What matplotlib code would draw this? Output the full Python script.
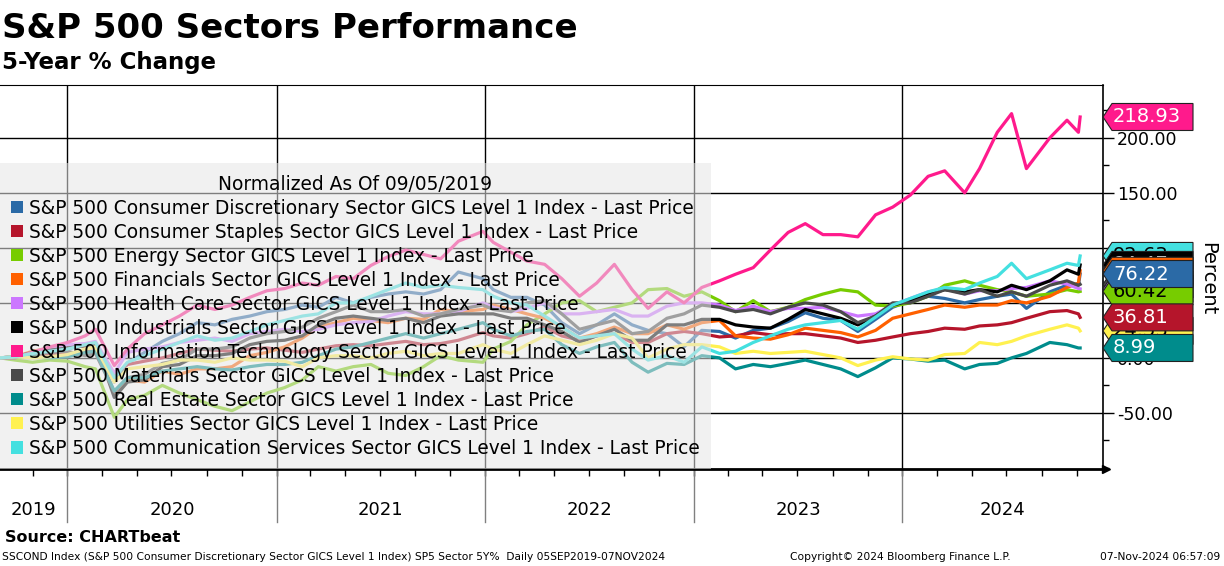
import numpy as np
import pandas as pd
import matplotlib
matplotlib.use('Agg')
import matplotlib.pyplot as plt
import matplotlib.dates as mdates
from matplotlib.patches import Patch, Polygon
from matplotlib.ticker import FormatStrFormatter

# sampling dates (monthly, plus a few turning points)
dates = pd.to_datetime([
    '2019-09-05', '2019-10-01', '2019-11-01', '2019-12-01', '2020-01-01', '2020-02-01', '2020-02-19', '2020-03-23',
    '2020-04-15', '2020-05-15', '2020-06-15', '2020-07-15', '2020-08-15', '2020-09-15', '2020-10-15', '2020-11-15',
    '2020-12-15',
    '2021-01-15', '2021-02-15', '2021-03-15', '2021-04-15', '2021-05-15', '2021-06-15', '2021-07-15', '2021-08-15',
    '2021-09-15', '2021-10-15', '2021-11-15', '2021-12-28',
    '2022-01-15', '2022-02-15', '2022-03-15', '2022-04-15', '2022-05-15', '2022-06-15', '2022-07-15', '2022-08-15',
    '2022-09-15', '2022-10-13', '2022-11-15', '2022-12-15',
    '2023-01-15', '2023-02-15', '2023-03-15', '2023-04-15', '2023-05-15', '2023-06-15', '2023-07-15', '2023-08-15',
    '2023-09-15', '2023-10-15', '2023-11-15', '2023-12-15',
    '2024-01-15', '2024-02-15', '2024-03-15', '2024-04-19', '2024-05-15', '2024-06-15', '2024-07-10', '2024-08-05',
    '2024-09-15', '2024-10-15', '2024-11-04', '2024-11-07',
])

cons_disc = [0, -1, 4, 6, 8, 12, 14, -22,
             -5, 5, 15, 22, 32, 30, 35, 38, 42,
             44, 48, 46, 55, 50, 55, 58, 60, 58, 62, 78, 72,
             62, 55, 55, 48, 32, 22, 30, 40, 30, 25, 22, 10,
             25, 24, 18, 25, 27, 33, 41, 36, 34, 24, 35, 46,
             52, 56, 54, 50, 53, 56, 58, 45, 60, 66, 66, 76.22]
cons_staples = [0, 1, 1, 3, 4, 6, 6, -16,
                -6, -3, 0, 4, 8, 7, 6, 8, 9,
                7, 5, 8, 11, 12, 11, 13, 15, 12, 13, 16, 23,
                20, 18, 22, 28, 20, 16, 20, 22, 14, 14, 22, 24,
                22, 19, 20, 23, 21, 22, 22, 20, 18, 14, 16, 19,
                22, 24, 27, 26, 29, 30, 32, 36, 42, 43, 40, 36.81]
energy = [0, -2, -4, -2, -3, -8, -10, -54,
          -38, -34, -25, -32, -38, -44, -48, -40, -32,
          -27, -20, -8, -12, -8, -6, -14, -16, -8, 2, -2, -4,
          8, 15, 30, 40, 50, 52, 42, 46, 50, 62, 63, 56,
          60, 52, 42, 52, 42, 46, 53, 58, 62, 60, 48, 47,
          50, 56, 66, 70, 66, 62, 60, 56, 58, 62, 60, 60.42]
financials = [0, 1, 6, 9, 12, 10, 12, -32,
              -20, -22, -12, -15, -10, -10, -8, 2, 5,
              10, 18, 28, 32, 36, 34, 32, 36, 35, 44, 42, 44,
              48, 44, 40, 36, 28, 18, 22, 28, 22, 22, 30, 26,
              32, 34, 20, 18, 17, 21, 27, 25, 23, 19, 25, 36,
              40, 44, 48, 46, 48, 48, 52, 50, 56, 64, 68, 79.18]
health_care = [0, 1, 4, 8, 12, 13, 15, -14,
               5, 8, 10, 14, 16, 18, 15, 22, 24,
               26, 24, 26, 30, 32, 33, 38, 42, 40, 40, 42, 50,
               46, 42, 45, 50, 40, 40, 42, 44, 38, 38, 47, 50,
               50, 48, 43, 47, 42, 45, 45, 46, 42, 38, 40, 48,
               54, 60, 63, 58, 61, 61, 63, 64, 70, 67, 63, 62.71]
industrials = [0, 1, 5, 7, 9, 11, 13, -36,
               -22, -20, -8, -6, 2, 2, 4, 12, 15,
               16, 20, 30, 36, 38, 36, 34, 36, 32, 38, 40, 40,
               40, 36, 36, 30, 24, 14, 20, 26, 16, 16, 30, 30,
               35, 35, 30, 28, 27, 35, 44, 40, 36, 30, 38, 48,
               52, 58, 62, 60, 62, 60, 66, 62, 70, 80, 76, 84.47]
info_tech = [0, 0, 5, 10, 14, 20, 26, -7,
             8, 22, 30, 38, 48, 44, 48, 55, 61,
             63, 68, 66, 74, 72, 84, 92, 98, 94, 90, 106, 115,
             105, 96, 88, 85, 72, 56, 68, 85, 62, 45, 60, 50,
             64, 70, 76, 82, 98, 114, 122, 112, 112, 110, 130, 137,
             148, 165, 170, 150, 172, 205, 222, 172, 200, 216, 205, 218.93]
materials = [0, 0, 3, 5, 6, 2, 4, -31,
             -18, -15, -5, -2, 8, 8, 10, 18, 22,
             24, 28, 36, 42, 48, 42, 42, 44, 38, 40, 44, 48,
             44, 42, 50, 52, 40, 26, 30, 34, 22, 24, 36, 40,
             48, 46, 42, 44, 40, 46, 50, 48, 42, 32, 38, 50,
             50, 56, 62, 58, 62, 56, 60, 56, 66, 70, 66, 66.85]
real_estate = [0, 1, 1, 0, 1, 5, 6, -30,
               -18, -18, -12, -10, -8, -10, -11, -8, -6,
               -6, -4, 2, 8, 10, 14, 18, 22, 18, 22, 26, 32,
               26, 20, 24, 26, 12, 4, 10, 14, -4, -13, -5, -6,
               2, 0, -10, -6, -8, -5, -2, -6, -10, -17, -9, 0,
               -1, -3, -2, -10, -6, -5, 0, 4, 14, 12, 9, 8.99]
utilities = [0, 1, 0, 1, 3, 8, 10, -22,
             -10, -8, -6, -2, -2, -4, 0, -2, -2,
             -3, -8, 0, 2, 2, 0, 4, 6, 2, 4, 4, 12,
             8, 4, 12, 20, 16, 12, 16, 22, 18, 0, 8, 12,
             12, 10, 4, 6, 4, 5, 6, 3, 0, -7, -2, 1,
             -1, -2, 3, 4, 14, 12, 15, 20, 26, 30, 27, 24.53]
comm_services = [0, 1, 4, 6, 8, 12, 14, -18,
                 -4, 2, 8, 14, 20, 16, 18, 24, 30,
                 34, 38, 40, 50, 50, 56, 62, 68, 64, 66, 64, 62,
                 56, 50, 48, 38, 28, 18, 20, 22, 8, -2, 2, -4,
                 10, 4, 6, 14, 20, 26, 30, 32, 34, 26, 37, 48,
                 54, 60, 64, 62, 68, 74, 86, 72, 80, 86, 84, 92.63]

sector_names = ['Consumer Discretionary', 'Consumer Staples', 'Energy', 'Financials', 'Health Care',
                'Industrials', 'Information Technology', 'Materials', 'Real Estate', 'Utilities',
                'Communication Services']
colors = ['#2b6aa6', '#b5152b', '#77cc00', '#ff6000', '#cc77ff', '#000000',
          '#ff1a8c', '#4a4a4a', '#008c8c', '#fff150', '#44e0e0']
tag_text_colors = ['white', 'white', 'black', 'white', 'white', 'white',
                   'white', 'white', 'white', 'black', 'black']
tag_order = [10, 5, 3, 7, 4, 2, 0, 9, 1, 8, 6]
years = [2019, 2020, 2021, 2022, 2023, 2024]

series = [cons_disc, cons_staples, energy, financials, health_care, industrials,
          info_tech, materials, real_estate, utilities, comm_services]

fig = plt.figure(figsize=(12.24, 5.66), dpi=100)
ax = fig.add_axes([0, 1 - 469 / 566, 1103 / 1224, 384 / 566])

for vals, col in zip(series, colors):
    ax.plot(dates, vals, color=col, lw=2.3, solid_joinstyle='round', zorder=3)

x0 = pd.Timestamp('2019-09-05')
x1 = pd.Timestamp('2024-12-17')
ax.set_xlim(x0, x1)
ax.set_ylim(-101, 248)

# right hand value axis
ax.yaxis.tick_right()
ax.set_yticks(np.arange(-50, 201, 50))
ax.set_yticks(np.arange(-100, 249, 25), minor=True)
ax.yaxis.set_major_formatter(FormatStrFormatter('%.2f'))
ax.tick_params(axis='y', which='major', length=8, width=1, labelsize=12.5, pad=2)
ax.tick_params(axis='y', which='minor', length=4, width=1)
ax.grid(axis='y', color='black', lw=1, zorder=1)
ax.set_axisbelow(True)

# x axis: year boundaries and bimonthly ticks
ax.xaxis.set_major_locator(mdates.MonthLocator(bymonth=[1, 3, 5, 7, 9, 11]))
ax.xaxis.set_major_formatter(plt.NullFormatter())
ax.tick_params(axis='x', which='major', length=5, width=1, direction='out')
for y in years[1:]:
    boundary = pd.Timestamp(f'{y}-01-01')
    ax.axvline(boundary, color='black', lw=1, zorder=1)
    ax.axvline(boundary, ymin=-0.138, ymax=0, color='#808080', lw=1, clip_on=False)

for y in years:
    start = max(pd.Timestamp(f'{y}-01-01'), x0)
    end = min(pd.Timestamp(f'{y + 1}-01-01'), x1)
    mid = start + (end - start) / 2
    ax.text(mid, -0.108, str(y), transform=ax.get_xaxis_transform(),
            ha='center', va='center', fontsize=13)

ax.spines['left'].set_visible(False)
ax.spines['bottom'].set_linewidth(2)
ax.spines['right'].set_linewidth(1.2)
ax.plot([1.003], [0], marker='>', color='black', markersize=6, transform=ax.transAxes, clip_on=False)

# legend
handles = [Patch(facecolor=c, edgecolor='none') for c in colors]
labels = [f'S&P 500 {s} Sector GICS Level 1 Index - Last Price' for s in sector_names]
leg = ax.legend(handles, labels, title='Normalized As Of 09/05/2019', loc='lower left',
                bbox_to_anchor=(0, 0), borderaxespad=0, fontsize=13.4, title_fontsize=13.4,
                frameon=True, fancybox=False, framealpha=0.55, facecolor='#e6e6e6', edgecolor='none',
                handlelength=0.65, handleheight=0.65, handletextpad=0.3, labelspacing=0.27, borderpad=0.6)
leg.set_zorder(5)

# last value tags
yt = ax.get_yaxis_transform()
w = 90 / 1103
tip = 9 / 1103
h = 13.5 / 1.1
for k, i in enumerate(tag_order):
    v = series[i][-1]
    poly = Polygon([(1.0, v), (1 + tip, v + h), (1 + w, v + h), (1 + w, v - h), (1 + tip, v - h)],
                   closed=True, transform=yt, facecolor=colors[i], edgecolor='#222222', lw=0.8,
                   clip_on=False, zorder=10 + 2 * k)
    ax.add_patch(poly)
    ax.text(1 + 10 / 1103, v, f'{v:.2f}', transform=yt, color=tag_text_colors[i], fontsize=14,
            ha='left', va='center', clip_on=False, zorder=11 + 2 * k)

fig.text(1208 / 1224, 1 - 279 / 566, 'Percent', rotation=270, ha='center', va='center', fontsize=14)

fig.text(0.002, 1 - 38 / 566, 'S&P 500 Sectors Performance', fontsize=24.5, fontweight='bold', va='baseline')
fig.text(0.002, 1 - 69 / 566, '5-Year % Change', fontsize=16.5, fontweight='bold', va='baseline')
fig.text(0.004, 1 - 537 / 566, 'Source: CHARTbeat', fontsize=11.5, fontweight='bold', va='center')
fig.text(0.002, 1 - 557 / 566,
         'SSCOND Index (S&P 500 Consumer Discretionary Sector GICS Level 1 Index) SP5 Sector 5Y%  Daily 05SEP2019-07NOV2024',
         fontsize=7.7, va='center')
fig.text(790 / 1224, 1 - 557 / 566, 'Copyright© 2024 Bloomberg Finance L.P.', fontsize=7.7, va='center')
fig.text(0.997, 1 - 557 / 566, '07-Nov-2024 06:57:09', fontsize=7.7, va='center', ha='right')

fig.savefig('out.png', dpi=100)
